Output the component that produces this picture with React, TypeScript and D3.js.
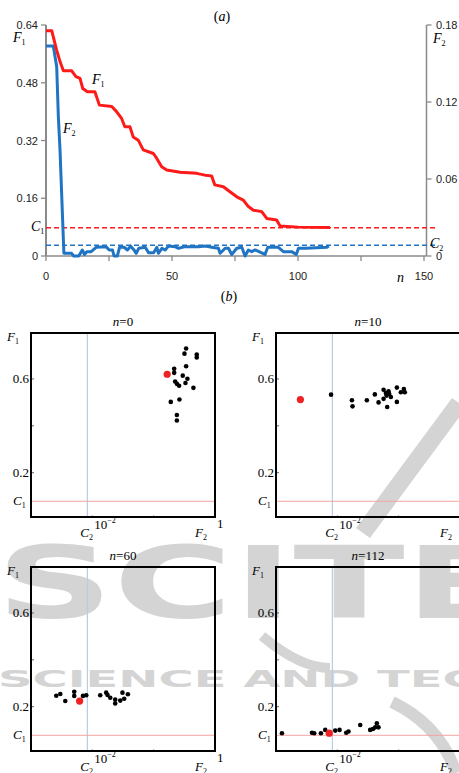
import React from "react";
import * as d3 from "d3";

const W = 459;
const H = 773;

// ---- (a) convergence of the two objectives, [n, value]
const f1Trace: [number, number][] = [
  [0, 0.624], [2.3, 0.624], [4.2, 0.571], [5.6, 0.538], [6.9, 0.513], [10.2, 0.513],
  [11.9, 0.497], [13.5, 0.492], [14.6, 0.464], [16.4, 0.455], [19.4, 0.455], [21.2, 0.418],
  [26.1, 0.414], [28, 0.4], [30, 0.381], [31.3, 0.358], [33.3, 0.358], [34.6, 0.33],
  [36.6, 0.321], [38.6, 0.294], [42.6, 0.284], [43.9, 0.271], [45.9, 0.247], [47.9, 0.238],
  [53.2, 0.232], [59.8, 0.229], [63.1, 0.224], [65.7, 0.222], [67, 0.197], [70.4, 0.192],
  [73, 0.178], [75.7, 0.164], [78.3, 0.155], [80.3, 0.137], [82.3, 0.127], [85.6, 0.123],
  [87.6, 0.104], [91.5, 0.1], [92.9, 0.083], [100.1, 0.08], [112.7, 0.079],
];
const f2Trace: [number, number][] = [
  [0, 0.1636], [2.9, 0.1636], [4.25, 0.1475], [4.9, 0.1086], [5.56, 0.0826], [7.1, 0.0021],
  [10.1, 0.0021], [11, 0], [13, 0], [14.4, 0.0047], [15.3, 0.0012], [16.2, 0.0034],
  [17.9, 0.0034], [19.9, 0.0068], [23.8, 0.0073], [25.1, 0.0047], [26.4, 0.0047], [27, 0],
  [28.3, 0], [29.2, 0.0068], [31, 0.0068], [32.3, 0.0047], [33.6, 0.0077], [34.9, 0.0047],
  [35.8, 0.0021], [36.8, 0.006], [39.4, 0.0068], [40.7, 0.0025], [42.7, 0.0025], [44, 0.0068],
  [44.6, 0.0021], [46, 0.006], [47.3, 0.0047], [48.6, 0.0077], [51.2, 0.0073], [52.6, 0.006],
  [55.2, 0.0073], [60.5, 0.0073], [63.1, 0.0077], [65.8, 0.0068], [68.4, 0.006], [69.1, 0.0021],
  [71.1, 0.006], [72.4, 0.006], [73.7, 0.0012], [75.7, 0.006], [77.7, 0.0068], [79, 0],
  [80.3, 0.0047], [81.6, 0.0034], [83, 0.0047], [85.6, 0.0025], [86.9, 0.0012], [88, 0.0068],
  [92.2, 0.0068], [94.2, 0.0034], [97.5, 0.0034], [99.3, 0.0012], [100.2, 0.006], [102.9, 0.006],
  [111.5, 0.0068], [112.2, 0.0077],
];
const nTicks = [0, 25, 50, 75, 100, 125, 150];
const nLabels = [0, 50, 100, 150];
const f1Ticks = [0, 0.16, 0.32, 0.48, 0.64];
const f2Ticks = [0, 0.06, 0.12, 0.18];
const C1 = 0.078;
const C2 = 0.0083;

// ---- (b) population snapshots, [F2, F1]
const panelN = ["0", "10", "60", "112"];
const pop0: [number, number][] = [
  [0.338, 0.73], [0.318, 0.708], [0.504, 0.704], [0.504, 0.692], [0.216, 0.643], [0.338, 0.654],
  [0.216, 0.626], [0.298, 0.614], [0.355, 0.601], [0.224, 0.589], [0.239, 0.579], [0.26, 0.571],
  [0.33, 0.583], [0.445, 0.562], [0.19, 0.502], [0.263, 0.512], [0.239, 0.446], [0.239, 0.423],
];
const pop10: [number, number][] = [
  [0.0079, 0.533], [0.0173, 0.509], [0.0177, 0.483], [0.0303, 0.509], [0.0409, 0.534],
  [0.047, 0.5], [0.0568, 0.554], [0.0568, 0.515], [0.0618, 0.54], [0.0635, 0.529],
  [0.0684, 0.547], [0.0701, 0.536], [0.0746, 0.523], [0.065, 0.48], [0.0935, 0.563],
  [0.0935, 0.502], [0.1086, 0.543], [0.1216, 0.557], [0.126, 0.543],
];
const pop60: [number, number][] = [
  [0.00258, 0.247], [0.003, 0.254], [0.00362, 0.224], [0.00507, 0.264], [0.00507, 0.246],
  [0.00703, 0.246], [0.00796, 0.249], [0.01345, 0.249], [0.01683, 0.26], [0.0177, 0.25],
  [0.0196, 0.238], [0.0236, 0.231], [0.0236, 0.214], [0.0285, 0.226], [0.031, 0.26],
  [0.0331, 0.234], [0.038, 0.253],
];
const pop112: [number, number][] = [
  [0.00125, 0.087], [0.00386, 0.089], [0.0042, 0.087], [0.0054, 0.087], [0.00635, 0.101],
  [0.00925, 0.098], [0.01087, 0.101], [0.01396, 0.089], [0.0152, 0.094], [0.0236, 0.122],
  [0.0343, 0.101], [0.038, 0.105], [0.0414, 0.112], [0.0441, 0.129], [0.0469, 0.112],
];
const bestPts: [number, number][] = [
  [0.166, 0.62], [0.0025, 0.512], [0.0062, 0.224], [0.00738, 0.087],
];
const pops = [pop0, pop10, pop60, pop112];
const panelYTicks = [0.2, 0.4, 0.6];
const panelXTicks = [1e-2, 1e-1];

const SERIF = "'Liberation Serif', 'Times New Roman', serif";
const SANS = "'Liberation Sans', Arial, sans-serif";
const RED = "#ff1a1a";
const BLUE = "#1f74c4";
const AXIS = "#8a8a8a";

function Sub({ children, size = 8 }: { children: React.ReactNode; size?: number }) {
  return (
    <tspan fontSize={size} fontStyle="normal" dy={3}>
      {children}
    </tspan>
  );
}

function Watermark() {
  const fill = "#d4d4d4";
  return (
    <g fill={fill} fontFamily="'DejaVu Sans', sans-serif" fontWeight="bold">
      <text x={-4} y={618} fontSize={100} textLength={520} lengthAdjust="spacingAndGlyphs">
        SCITE
      </text>
      <text x={-2} y={687} fontSize={23} textLength={560} lengthAdjust="spacingAndGlyphs">
        SCIENCE AND TECHN
      </text>
      <path d="M 452 398 L 466 408 L 370 538 L 356 528 Z" />
      <path d="M 262 636 Q 300 668 330 668" stroke={fill} strokeWidth={10} fill="none" />
      <path d="M 392 702 Q 440 725 456 773" stroke={fill} strokeWidth={12} fill="none" />
    </g>
  );
}

function TopChart() {
  const x = d3.scaleLinear().domain([0, 150]).range([46, 424]);
  const yL = d3.scaleLinear().domain([0, 0.64]).range([256, 25]);
  const yR = d3.scaleLinear().domain([0, 0.18]).range([256, 25]);
  const lineL = d3.line<[number, number]>().x((d) => x(d[0])).y((d) => yL(d[1]));
  const lineR = d3.line<[number, number]>().x((d) => x(d[0])).y((d) => yR(d[1]));
  const rx = 426.5;

  return (
    <g>
      <text x={222} y={21} fontFamily={SERIF} fontSize={14} textAnchor="middle">
        (<tspan fontStyle="italic">a</tspan>)
      </text>

      {/* axes */}
      <line x1={x(0)} x2={rx} y1={yL(0)} y2={yL(0)} stroke={AXIS} strokeWidth={1.5} />
      <line x1={x(0)} x2={x(0)} y1={yL(0)} y2={yL(0.64)} stroke={AXIS} strokeWidth={2} />
      <line x1={rx} x2={rx} y1={yR(0)} y2={yR(0.18)} stroke={AXIS} strokeWidth={1.5} />
      {nTicks.map((t) => (
        <line key={t} x1={x(t)} x2={x(t)} y1={256} y2={261} stroke={AXIS} strokeWidth={1.3} />
      ))}
      {f1Ticks.map((t) => (
        <g key={t}>
          <line x1={41} x2={46} y1={yL(t)} y2={yL(t)} stroke={AXIS} strokeWidth={1.3} />
          <text x={38} y={yL(t) + 4} textAnchor="end" fontFamily={SANS} fontSize={11} fill="#222">
            {t === 0 ? "0" : t.toFixed(2)}
          </text>
        </g>
      ))}
      {f2Ticks.map((t) => (
        <g key={t}>
          <line x1={rx} x2={rx + 5} y1={yR(t)} y2={yR(t)} stroke={AXIS} strokeWidth={1.3} />
          <text x={436} y={yR(t) + 4} fontFamily={SANS} fontSize={11} fill="#222">
            {t === 0 ? "0" : t.toFixed(2)}
          </text>
        </g>
      ))}
      {nLabels.map((t) => (
        <text key={t} x={x(t)} y={280} textAnchor="middle" fontFamily={SANS} fontSize={11} fill="#222">
          {t}
        </text>
      ))}

      {/* thresholds */}
      <line x1={x(0)} x2={436} y1={yL(C1)} y2={yL(C1)} stroke={RED} strokeWidth={1.5} strokeDasharray="5 3" />
      <line x1={x(0)} x2={436} y1={yR(C2)} y2={yR(C2)} stroke={BLUE} strokeWidth={1.5} strokeDasharray="5 3" />

      {/* traces */}
      <path d={lineR(f2Trace) ?? ""} fill="none" stroke={BLUE} strokeWidth={3} strokeLinejoin="round" />
      <path d={lineL(f1Trace) ?? ""} fill="none" stroke={RED} strokeWidth={3} strokeLinejoin="round" />

      {/* labels */}
      <g fontFamily={SERIF} fontStyle="italic" fontSize={14}>
        <text x={13} y={42}>
          F<Sub>1</Sub>
        </text>
        <text x={433} y={43}>
          F<Sub>2</Sub>
        </text>
        <text x={92} y={84}>
          F<Sub>1</Sub>
        </text>
        <text x={63} y={133}>
          F<Sub>2</Sub>
        </text>
        <text x={31} y={231}>
          C<Sub>1</Sub>
        </text>
        <text x={430} y={248}>
          C<Sub>2</Sub>
        </text>
        <text x={397} y={282}>n</text>
      </g>

      <text x={229} y={301} fontFamily={SERIF} fontSize={14} textAnchor="middle">
        (<tspan fontStyle="italic">b</tspan>)
      </text>
    </g>
  );
}

function Panel({
  x0,
  y0,
  n,
  pts,
  best,
}: {
  x0: number;
  y0: number;
  n: string;
  pts: [number, number][];
  best: [number, number];
}) {
  const size = 184;
  const sx = d3.scaleLog().domain([1e-3, 1]).range([x0, x0 + size]);
  const sy = d3.scaleLinear().domain([0.011, 0.796]).range([y0 + size, y0]);
  const bottom = y0 + size;
  const right = x0 + size;

  return (
    <g fontFamily={SERIF}>
      <text x={x0 + size / 2} y={y0 - 7} textAnchor="middle" fontSize={13}>
        <tspan fontStyle="italic">n</tspan>={n}
      </text>

      {/* thresholds */}
      <line x1={sx(C2)} x2={sx(C2)} y1={y0} y2={bottom} stroke="#b8cce8" strokeWidth={1.2} />
      <line x1={x0} x2={right} y1={sy(C1)} y2={sy(C1)} stroke="#f4a4a4" strokeWidth={1} />

      {panelYTicks.map((t) => (
        <line key={t} x1={x0} x2={x0 + 3} y1={sy(t)} y2={sy(t)} stroke="#666" strokeWidth={1} />
      ))}
      {panelXTicks.map((t) => (
        <line key={t} x1={sx(t)} x2={sx(t)} y1={bottom - 2} y2={bottom} stroke="#aaa" strokeWidth={1} />
      ))}

      {pts.map((p, i) => (
        <circle key={i} cx={sx(p[0])} cy={sy(p[1])} r={2.3} fill="#000" />
      ))}
      <circle cx={sx(best[0])} cy={sy(best[1])} r={3.6} fill="#ee2222" />

      <rect x={x0} y={y0} width={size} height={size} fill="none" stroke="#000" strokeWidth={2} />

      {/* axis labels */}
      <g fontSize={13}>
        <text x={x0 - 2} y={sy(0.6) + 4} textAnchor="end">0.6</text>
        <text x={x0 - 2} y={sy(0.2) + 4} textAnchor="end">0.2</text>
        <text x={x0 - 18} y={sy(C1) + 4} fontStyle="italic">
          C<Sub>1</Sub>
        </text>
        <text x={x0 - 24} y={y0 + 8} fontStyle="italic">
          F<Sub>1</Sub>
        </text>
        <text x={sx(1e-2) + 2} y={bottom + 12}>
          10
          <tspan fontSize={8} dy={-6}>
            −2
          </tspan>
        </text>
        <text x={sx(C2) - 7} y={bottom + 20} fontStyle="italic">
          C<Sub>2</Sub>
        </text>
        <text x={right - 20} y={bottom + 20} fontStyle="italic">
          F<Sub>2</Sub>
        </text>
        <text x={right + 2} y={bottom + 11}>1</text>
      </g>
    </g>
  );
}

export default function App() {
  const cols = [31, 276];
  const rows = [333, 567];
  return (
    <div>
      <style>{`body { margin: 0; background: #fff; }`}</style>
      <svg width={W} height={H} style={{ display: "block" }}>
        <rect width={W} height={H} fill="#fff" />
        <Watermark />
        <TopChart />
        {pops.map((pts, i) => (
          <Panel
            key={i}
            x0={cols[i % 2]}
            y0={rows[Math.floor(i / 2)]}
            n={panelN[i]}
            pts={pts}
            best={bestPts[i]}
          />
        ))}
      </svg>
    </div>
  );
}
